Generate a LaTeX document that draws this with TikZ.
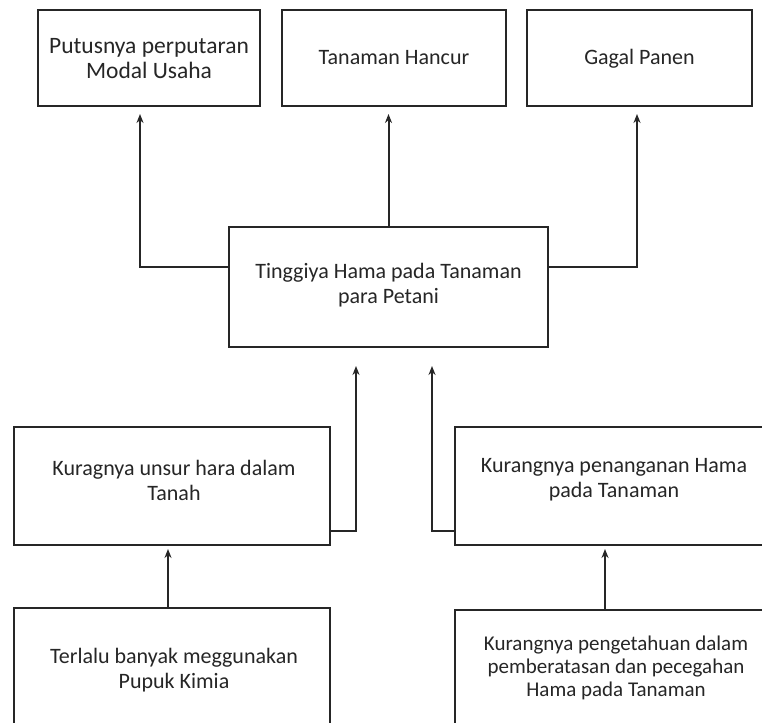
\documentclass[tikz,border=0pt]{standalone}
\usepackage{fontspec}
\setmainfont{Carlito}
\usetikzlibrary{arrows.meta,calc}
\begin{document}
\begin{tikzpicture}[x=1pt,y=-1pt,
  box/.style={draw=black!85,line width=2pt,fill=white,inner sep=0pt},
  lbl/.style={anchor=center,align=center,inner sep=0pt,text=black!85,font=\fontsize{22}{25}\selectfont},
  arr/.style={draw=black!85,line width=2pt,-{Stealth[length=9pt,width=7pt]}}]
\useasboundingbox (0,0) rectangle (762,722);
\clip (0,0) rectangle (762,722);
\fill[white] (0,0) rectangle (762,722);
\node[box,minimum width=222pt,minimum height=96pt] (b1) at (149,58) {};
\node[lbl,font=\fontsize{23.5}{25}\selectfont] (t1) at (149,59) {Putusnya perputaran\\Modal Usaha};
\node[box,minimum width=224pt,minimum height=96pt] (b2) at (394,58) {};
\node[lbl] (t2) at (394,60) {Tanaman Hancur\strut};
\node[box,minimum width=225pt,minimum height=96pt] (b3) at (639.5,58) {};
\node[lbl] (t3) at (639.5,60) {Gagal Panen\strut};
\node[box,minimum width=319pt,minimum height=120pt] (c) at (388.5,287) {};
\node[lbl] (tc) at (388.5,285) {Tinggiya Hama pada Tanaman\\para Petani};
\node[box,minimum width=316pt,minimum height=118pt] (b4) at (172,486) {};
\node[lbl] (t4) at (174,480) {Kuragnya unsur hara dalam\\Tanah};
\node[box,minimum width=315pt,minimum height=118pt] (b5) at (612.5,486) {};
\node[lbl] (t5) at (614,480) {Kurangnya penanganan Hama\\pada Tanaman};
\node[box,minimum width=316pt,minimum height=124pt] (b6) at (172,670) {};
\node[lbl] (t6) at (174,670) {Terlalu banyak meggunakan\\Pupuk Kimia};
\node[box,minimum width=315pt,minimum height=118pt] (b7) at (612.5,669) {};
\node[lbl,font=\fontsize{21}{23}\selectfont] (t7) at (616,668) {Kurangnya pengetahuan dalam\\pemberatasan dan pecegahan\\Hama pada Tanaman};
% connectors
\draw[arr,shorten >=7pt] ([yshift=20pt]c.west) -| ([xshift=-9pt]b1.south);
\draw[arr,shorten >=7pt] (c.north) -- (c.north |- b2.south);
\draw[arr,shorten >=7pt] ([yshift=20pt]c.east) -| ([xshift=-2.5pt]b3.south);
\draw[arr,shorten >=18pt] ([yshift=15pt]b4.south east) -| ([xshift=-32.5pt]c.south);
\draw[arr,shorten >=18pt] ([yshift=15pt]b5.south west) -| ([xshift=43.5pt]c.south);
\draw[arr,shorten >=3pt] ([xshift=-4pt]b6.north) -- ([xshift=-4pt]b4.south);
\draw[arr,shorten >=3pt] ([xshift=-7.5pt]b7.north) -- ([xshift=-7.5pt]b5.south);
\end{tikzpicture}
\end{document}
